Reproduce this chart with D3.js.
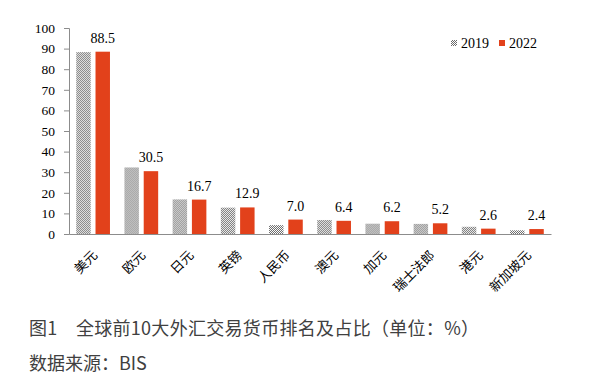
<!DOCTYPE html>
<html>
<head>
<meta charset="utf-8">
<script src="https://cdn.jsdelivr.net/npm/d3@7"></script>
<style>
    body { margin: 0; background: #fff; }
    svg { display: block; }
</style>
</head>
<body>
<svg id="chart"></svg>
<script>
const categories = ["美元", "欧元", "日元", "英镑", "人民币", "澳元", "加元", "瑞士法郎", "港元", "新加坡元"];
const years = ["2019", "2022"];
const values2019 = [88.3, 32.3, 16.8, 12.8, 4.3, 6.8, 5.0, 4.9, 3.5, 1.8];
const values2022 = [88.5, 30.5, 16.7, 12.9, 7.0, 6.4, 6.2, 5.2, 2.6, 2.4];
const yTicks = [0, 10, 20, 30, 40, 50, 60, 70, 80, 90, 100];
const captionTitle = "图1　全球前10大外汇交易货币排名及占比（单位：%）";
const captionSource = "数据来源：BIS";

const width = 610;
const height = 390;
const red = "#e2411b";
const serif = "Times New Roman, Liberation Serif, serif";
const cjk = "Noto Sans CJK SC, sans-serif";

const svg = d3.select("#chart")
    .attr("width", width)
    .attr("height", height);

// checkered fill for the 2019 bars
const pattern = svg.append("defs").append("pattern")
    .attr("id", "checker")
    .attr("width", 2)
    .attr("height", 2)
    .attr("patternUnits", "userSpaceOnUse");
pattern.append("rect").attr("width", 2).attr("height", 2).attr("fill", "#ffffff");
pattern.append("rect").attr("width", 1).attr("height", 1).attr("fill", "#6b6b6b");
pattern.append("rect").attr("x", 1).attr("y", 1).attr("width", 1).attr("height", 1).attr("fill", "#6b6b6b");

const x0 = d3.scaleBand()
    .domain(categories)
    .range([69, 551])
    .paddingInner(0.3)
    .paddingOuter(0.15);

const x1 = d3.scaleBand()
    .domain(years)
    .range([0, x0.bandwidth()])
    .paddingInner(0.25);

const y = d3.scaleLinear()
    .domain([0, 100])
    .range([234, 28]);

// y axis
const yAxis = svg.append("g")
    .attr("transform", "translate(69,0)")
    .call(d3.axisLeft(y).tickValues(yTicks).tickSize(5).tickPadding(9));
yAxis.select(".domain").attr("stroke", "#8c8c8c");
yAxis.selectAll(".tick line").attr("stroke", "#8c8c8c");
yAxis.selectAll(".tick text")
    .style("font-family", serif)
    .style("font-size", "13.5px")
    .attr("fill", "#000");

// bars
const rows = categories.map((c, i) => ({cat: c, v2019: values2019[i], v2022: values2022[i]}));

const groups = svg.append("g")
    .selectAll("g")
    .data(rows)
    .join("g")
    .attr("transform", d => `translate(${x0(d.cat)},0)`);

groups.append("rect")
    .attr("x", x1("2019"))
    .attr("y", d => y(d.v2019))
    .attr("width", x1.bandwidth())
    .attr("height", d => y(0) - y(d.v2019))
    .attr("fill", "url(#checker)");

groups.append("rect")
    .attr("x", x1("2022"))
    .attr("y", d => y(d.v2022))
    .attr("width", x1.bandwidth())
    .attr("height", d => y(0) - y(d.v2022))
    .attr("fill", red);

// value labels above 2022 bars
groups.append("text")
    .attr("x", x1("2022") + x1.bandwidth() / 2)
    .attr("y", d => y(d.v2022) - 9)
    .attr("text-anchor", "middle")
    .style("font-family", serif)
    .style("font-size", "14px")
    .attr("fill", "#000")
    .text(d => d.v2022.toFixed(1));

// x axis
const xAxis = svg.append("g")
    .attr("transform", "translate(0,234)")
    .call(d3.axisBottom(x0).tickSize(0).tickPadding(0));
xAxis.select(".domain").attr("stroke", "#8c8c8c");
xAxis.selectAll(".tick text")
    .style("font-family", cjk)
    .style("font-size", "13px")
    .attr("fill", "#000")
    .attr("text-anchor", "end")
    .attr("dy", null)
    .attr("transform", "translate(5,22) rotate(-45)");

// legend
const legend = svg.append("g")
    .style("font-family", serif)
    .style("font-size", "14px")
    .attr("fill", "#000");
legend.append("rect").attr("x", 451).attr("y", 40).attr("width", 6).attr("height", 6).attr("fill", "url(#checker)");
legend.append("text").attr("x", 461).attr("y", 48).text(years[0]);
legend.append("rect").attr("x", 499).attr("y", 40).attr("width", 6).attr("height", 6).attr("fill", red);
legend.append("text").attr("x", 509).attr("y", 48).text(years[1]);

// caption
svg.append("text")
    .attr("x", 29)
    .attr("y", 335)
    .style("font-family", cjk)
    .style("font-size", "18px")
    .style("letter-spacing", "0.3px")
    .attr("fill", "#404040")
    .text(captionTitle);
svg.append("text")
    .attr("x", 29)
    .attr("y", 370)
    .style("font-family", cjk)
    .style("font-size", "18px")
    .attr("fill", "#404040")
    .text(captionSource);
</script>
</body>
</html>
